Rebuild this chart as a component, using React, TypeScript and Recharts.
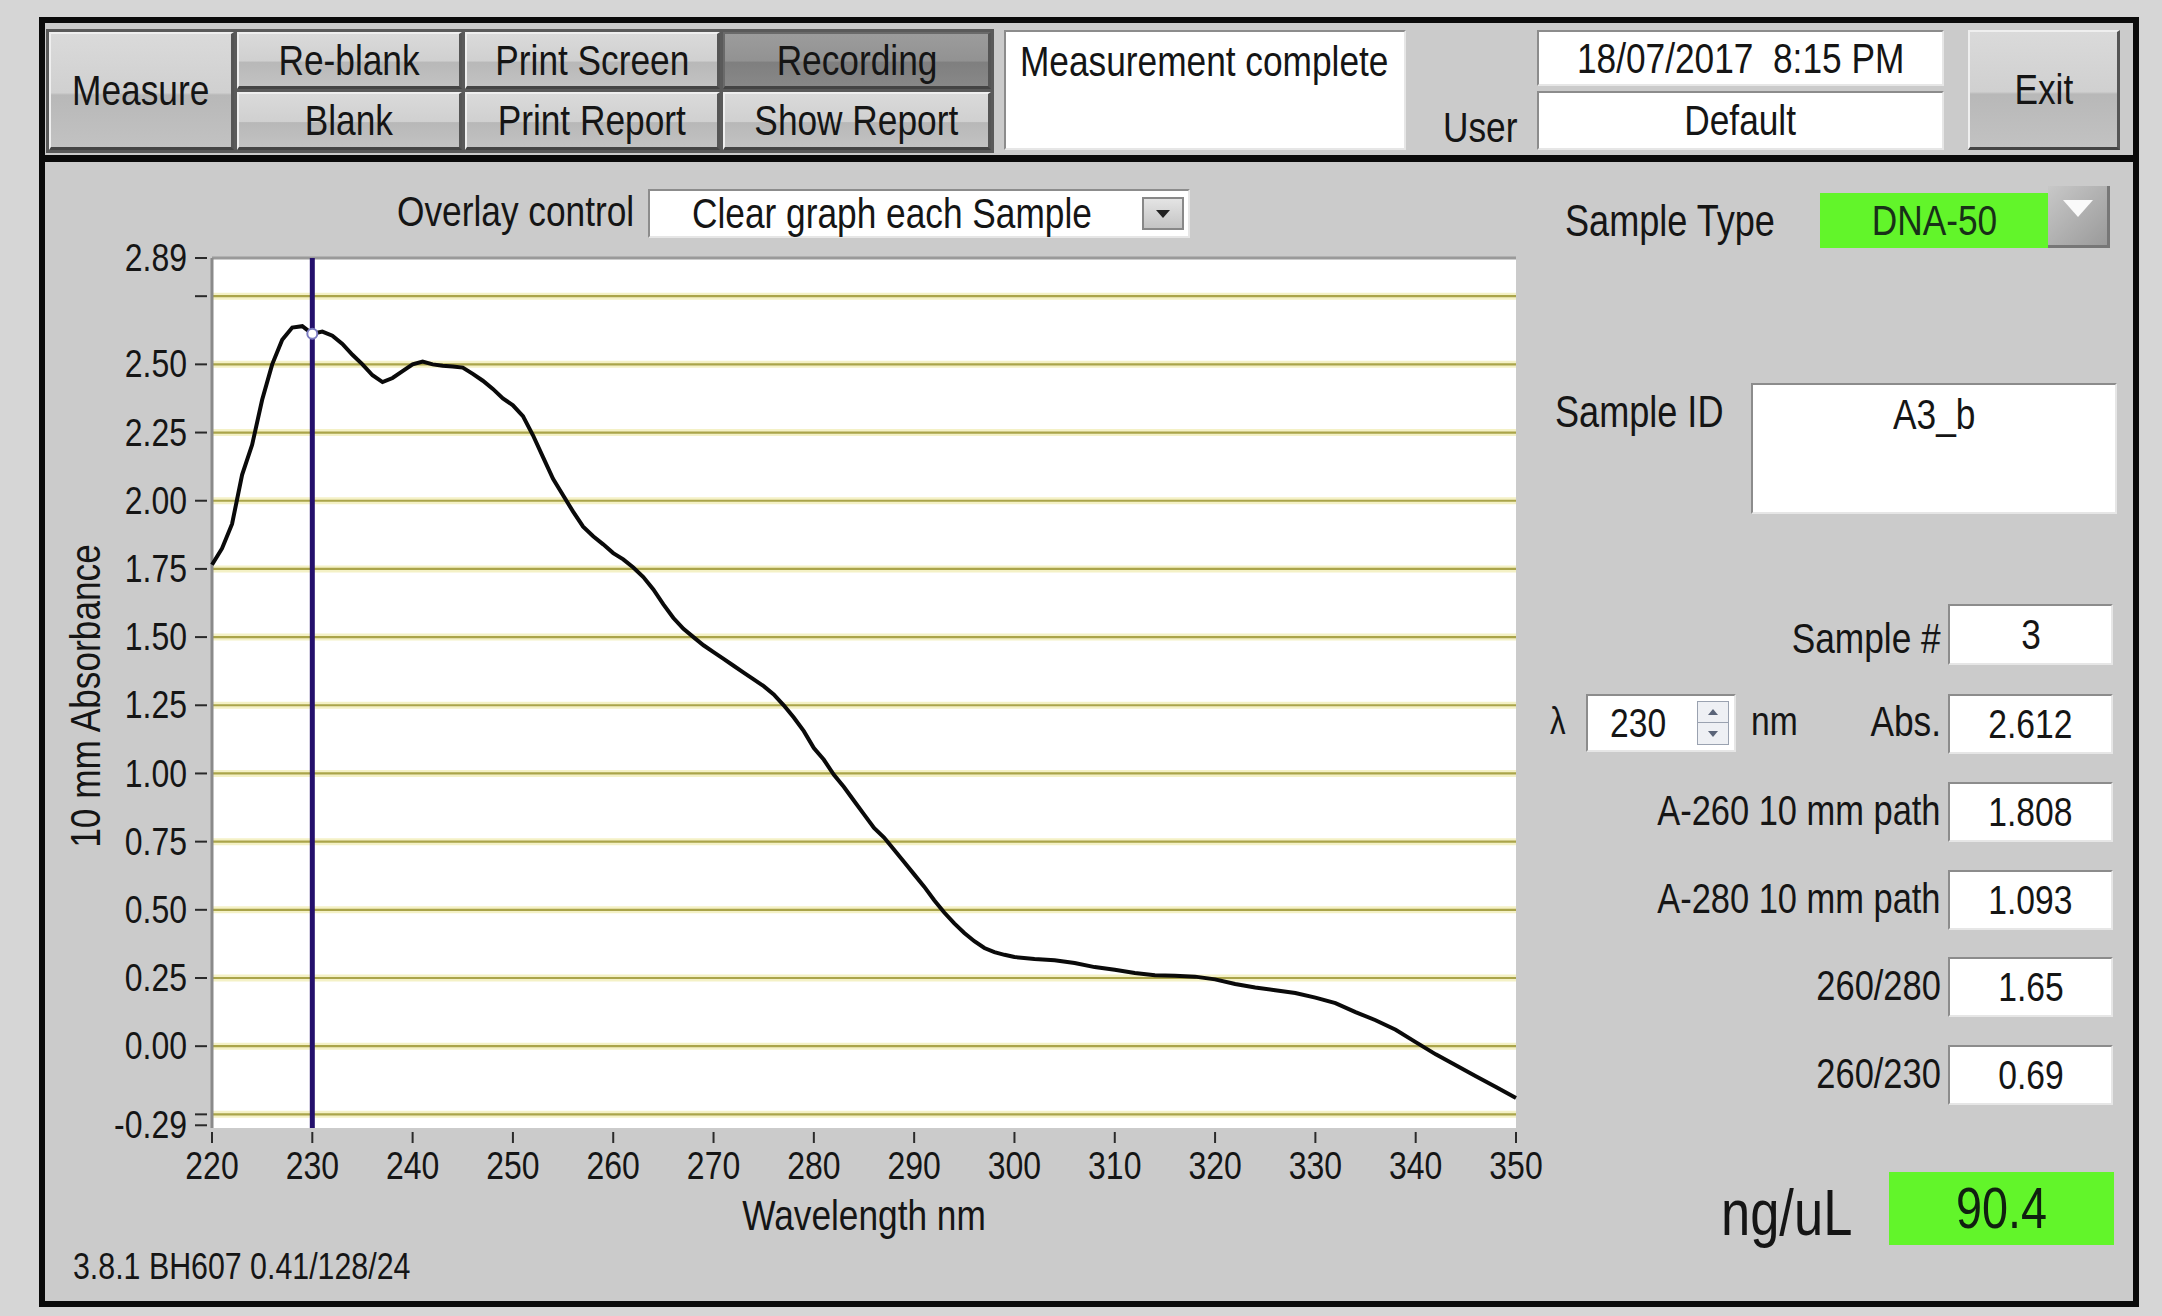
import { LineChart, Line, XAxis, YAxis, CartesianGrid, ReferenceLine, ReferenceDot, Label } from "recharts";

const wavelengths = [
  220, 221, 222, 223, 224, 225, 226, 227, 228, 229, 230, 231, 232, 233, 234, 235, 236, 237, 238, 239,
  240, 241, 242, 243, 244, 245, 246, 247, 248, 249, 250, 251, 252, 253, 254, 255, 256, 257, 258, 259,
  260, 261, 262, 263, 264, 265, 266, 267, 268, 269, 270, 271, 272, 273, 274, 275, 276, 277, 278, 279,
  280, 281, 282, 283, 284, 285, 286, 287, 288, 289, 290, 291, 292, 293, 294, 295, 296, 297, 298, 299,
  300, 302, 304, 306, 308, 310, 312, 314, 316, 318, 320, 322, 324, 326, 328, 330, 332, 334, 336, 338,
  340, 342, 344, 346, 348, 350,
];

const absorbance = [
  1.765, 1.825, 1.915, 2.095, 2.205, 2.37, 2.5, 2.59, 2.635, 2.64, 2.612, 2.62, 2.605, 2.575, 2.535, 2.5, 2.46, 2.435, 2.45, 2.475,
  2.5, 2.51, 2.5, 2.495, 2.492, 2.488, 2.465, 2.44, 2.41, 2.375, 2.35, 2.31, 2.24, 2.16, 2.08, 2.02, 1.96, 1.905, 1.87, 1.84,
  1.808, 1.785, 1.755, 1.72, 1.675, 1.62, 1.57, 1.53, 1.5, 1.47, 1.445, 1.42, 1.395, 1.37, 1.345, 1.32, 1.29, 1.25, 1.205, 1.155,
  1.093, 1.05, 0.995, 0.95, 0.9, 0.85, 0.8, 0.765, 0.72, 0.675, 0.63, 0.585, 0.535, 0.49, 0.45, 0.415, 0.385, 0.36, 0.345, 0.335,
  0.327, 0.32, 0.315, 0.305, 0.29, 0.28, 0.268, 0.26, 0.258, 0.255, 0.245, 0.228, 0.215, 0.205, 0.195, 0.178, 0.158, 0.125, 0.095, 0.06,
  0.015, -0.03, -0.07, -0.11, -0.15, -0.19,
];

const xTicks = [220, 230, 240, 250, 260, 270, 280, 290, 300, 310, 320, 330, 340, 350];
const yTicks = [-0.29, -0.25, 0, 0.25, 0.5, 0.75, 1, 1.25, 1.5, 1.75, 2, 2.25, 2.5, 2.75, 2.89];
const gridValues = [-0.25, 0, 0.25, 0.5, 0.75, 1, 1.25, 1.5, 1.75, 2, 2.25, 2.5, 2.75];
const unlabelledTicks = [-0.25, 2.75];
const yMin = -0.3;
const yMax = 2.89;
const cursorWavelength = 230;
const cursorAbs = 2.612;

const resultLabels = ["A-260 10 mm path", "A-280 10 mm path", "260/280", "260/230"];
const resultValues = ["1.808", "1.093", "1.65", "0.69"];
const resultTops = [782, 870, 957, 1045];

const data = wavelengths.map((wl, i) => ({ wl, abs: absorbance[i] }));

const W = 2162;
const H = 1316;
const FONT = '"Liberation Sans", Arial, sans-serif';
const SQ = 0.82; // the instrument font is a tall, condensed face
const INK = "#151515";
const PANEL = "#cbcbcb";

const Sq = ({ children, origin = "center" }: any) => (
  <span style={{ display: "inline-block", transform: `scaleX(${SQ})`, transformOrigin: origin }}>{children}</span>
);

const Txt = ({ x, y, size = 43, align = "left", children, color = INK }: any) => {
  const style: any = {
    position: "absolute",
    top: y,
    fontSize: size,
    lineHeight: 1,
    whiteSpace: "nowrap",
    color,
    fontFamily: FONT,
    transform: "translateY(-50%)",
  };
  if (align === "left") style.left = x;
  if (align === "right") style.right = W - x;
  if (align === "center") {
    style.left = x;
    style.transform = "translate(-50%, -50%)";
  }
  return (
    <div style={style}>
      <Sq origin={align}>{children}</Sq>
    </div>
  );
};

const Field = ({ x, y, w, h, bg = "#fff", children, size = 43, top = false, left = false, pad = 0 }: any) => (
  <div
    style={{
      position: "absolute",
      left: x,
      top: y,
      width: w,
      height: h,
      background: bg,
      boxSizing: "border-box",
      borderTop: "2px solid #8c8c8c",
      borderLeft: "2px solid #8c8c8c",
      borderRight: "2px solid #e6e6e6",
      borderBottom: "2px solid #e6e6e6",
      display: "flex",
      alignItems: top ? "flex-start" : "center",
      justifyContent: left ? "flex-start" : "center",
      paddingLeft: pad,
      paddingTop: top ? 8 : 0,
      fontFamily: FONT,
      fontSize: size,
      lineHeight: 1,
      color: INK,
      whiteSpace: "nowrap",
    }}
  >
    <Sq origin={left ? "left" : "center"}>{children}</Sq>
  </div>
);

const Btn = ({ x, y, w, h, label, pressed = false, size = 43 }: any) => (
  <div
    style={{
      position: "absolute",
      left: x,
      top: y,
      width: w,
      height: h,
      boxSizing: "border-box",
      background: pressed
        ? "linear-gradient(#9c9c9c, #929292 52%, #7f7f7f 54%, #888888)"
        : "linear-gradient(#dadada, #d0d0d0 52%, #b8b8b8 54%, #c2c2c2)",
      borderTop: `2px solid ${pressed ? "#6a6a6a" : "#efefef"}`,
      borderLeft: `2px solid ${pressed ? "#6a6a6a" : "#efefef"}`,
      borderRight: "3px solid #555",
      borderBottom: "3px solid #444",
      display: "flex",
      alignItems: "center",
      justifyContent: "center",
      fontFamily: FONT,
      fontSize: size,
      lineHeight: 1,
      color: INK,
      whiteSpace: "nowrap",
    }}
  >
    <Sq>{label}</Sq>
  </div>
);

const YTick = ({ x, y, payload }: any) => {
  const v = payload.value;
  return (
    <g>
      <line x1={x - 17} x2={x - 5} y1={y} y2={y} stroke="#2a2a2a" strokeWidth={2} />
      <text
        transform={`translate(${x - 25} ${y}) scale(${SQ} 1)`}
        textAnchor="end"
        dominantBaseline="central"
        fontSize={39}
        fontFamily={FONT}
        fill={INK}
      >
        {unlabelledTicks.includes(v) ? "" : v.toFixed(2)}
      </text>
    </g>
  );
};

const XTick = ({ x, y, payload }: any) => (
  <g>
    <line x1={x} x2={x} y1={y + 4} y2={y + 15} stroke="#2a2a2a" strokeWidth={2} />
    <text
      transform={`translate(${x} ${y + 38}) scale(${SQ} 1)`}
      textAnchor="middle"
      dominantBaseline="central"
      fontSize={39}
      fontFamily={FONT}
      fill={INK}
    >
      {payload.value}
    </text>
  </g>
);

const SpectrumChart = () => (
  <LineChart width={1560} height={1060} data={data} margin={{ top: 58, right: 44, bottom: 0, left: 0 }}>
    <CartesianGrid vertical={false} horizontalValues={gridValues} stroke="#f4f1c6" strokeWidth={7} fill="#ffffff" fillOpacity={1} />
    <CartesianGrid vertical={false} horizontalValues={gridValues} stroke="#aaa44a" strokeWidth={2.2} />
    <XAxis
      dataKey="wl"
      type="number"
      domain={[220, 350]}
      ticks={xTicks}
      interval={0}
      height={132}
      axisLine={false}
      tickLine={false}
      tickSize={0}
      tickMargin={0}
      tick={<XTick />}
    >
      <Label
        content={({ viewBox }: any) => (
          <text
            transform={`translate(${viewBox.x + viewBox.width / 2} ${viewBox.y + 87}) scale(${SQ} 1)`}
            textAnchor="middle"
            dominantBaseline="central"
            fontSize={43}
            fontFamily={FONT}
            fill={INK}
          >
            Wavelength nm
          </text>
        )}
      />
    </XAxis>
    <YAxis
      type="number"
      domain={[yMin, yMax]}
      ticks={yTicks}
      interval={0}
      width={212}
      axisLine={false}
      tickLine={false}
      tickSize={0}
      tickMargin={0}
      allowDataOverflow
      tick={<YTick />}
    >
      <Label
        content={({ viewBox }: any) => {
          const cx = viewBox.x + 85;
          const cy = viewBox.y + viewBox.height / 2 + 3;
          return (
            <text
              transform={`translate(${cx} ${cy}) rotate(-90) scale(${SQ} 1)`}
              textAnchor="middle"
              dominantBaseline="central"
              fontSize={43}
              fontFamily={FONT}
              fill={INK}
            >
              10 mm Absorbance
            </text>
          );
        }}
      />
    </YAxis>
    <ReferenceLine y={yMax} stroke="#9a9a9a" strokeWidth={3} />
    <ReferenceLine x={220} stroke="#8a8a8a" strokeWidth={3} />
    <ReferenceLine x={cursorWavelength} stroke="#24106c" strokeWidth={5} />
    <Line type="linear" dataKey="abs" stroke="#0a0a0a" strokeWidth={4} dot={false} isAnimationActive={false} />
    <ReferenceDot x={cursorWavelength} y={cursorAbs} r={5} fill="#ffffff" stroke="#7a7ac0" strokeWidth={2} />
  </LineChart>
);

export default function App() {
  return (
    <div style={{ position: "absolute", left: 0, top: 0, width: W, height: H, background: "#d6d6d6", overflow: "hidden" }}>
      {/* outer frame */}
      <div
        style={{
          position: "absolute",
          left: 39,
          top: 17,
          width: 2100,
          height: 1290,
          boxSizing: "border-box",
          border: "6px solid #0a0a0a",
          background: PANEL,
        }}
      />
      <div style={{ position: "absolute", left: 39, top: 155, width: 2100, height: 7, background: "#0a0a0a" }} />

      {/* toolbar */}
      <div style={{ position: "absolute", left: 46, top: 29, width: 948, height: 124, background: "#5a5a5a" }} />
      <Btn x={49} y={32} w={185} h={118} label="Measure" />
      <Btn x={237} y={32} w={225} h={57} label="Re-blank" />
      <Btn x={237} y={92} w={225} h={58} label="Blank" />
      <Btn x={465} y={32} w={255} h={57} label="Print Screen" />
      <Btn x={465} y={92} w={255} h={58} label="Print Report" />
      <Btn x={723} y={32} w={268} h={57} label="Recording" pressed />
      <Btn x={723} y={92} w={268} h={58} label="Show Report" />

      <Field x={1004} y={30} w={402} h={120} top left pad={14}>
        Measurement complete
      </Field>
      <Txt x={1443} y={127}>User</Txt>
      <Field x={1537} y={30} w={407} h={56}>18/07/2017&nbsp;&nbsp;8:15 PM</Field>
      <Field x={1537} y={91} w={407} h={59}>Default</Field>
      <Btn x={1968} y={30} w={152} h={120} label="Exit" />

      {/* overlay control */}
      <Txt x={634} y={211} align="right">Overlay control</Txt>
      <Field x={648} y={189} w={542} h={49} left pad={42}>
        Clear graph each Sample
      </Field>
      <div
        style={{
          position: "absolute",
          left: 1142,
          top: 197,
          width: 42,
          height: 33,
          boxSizing: "border-box",
          background: "linear-gradient(#e4e4e4, #c4c4c4)",
          border: "2px solid #888",
          display: "flex",
          alignItems: "center",
          justifyContent: "center",
        }}
      >
        <div style={{ width: 0, height: 0, borderLeft: "7px solid transparent", borderRight: "7px solid transparent", borderTop: "8px solid #222" }} />
      </div>

      {/* chart */}
      <div style={{ position: "absolute", left: 0, top: 200 }}>
        <SpectrumChart />
      </div>
      <Txt x={73} y={1266} size={37}>3.8.1 BH607 0.41/128/24</Txt>

      {/* right panel */}
      <Txt x={1565} y={221} size={44}>Sample Type</Txt>
      <div
        style={{
          position: "absolute",
          left: 1820,
          top: 193,
          width: 228,
          height: 55,
          background: "#62f52a",
          display: "flex",
          alignItems: "flex-start",
          justifyContent: "center",
          paddingTop: 6,
          boxSizing: "border-box",
          fontFamily: FONT,
          fontSize: 43,
          lineHeight: 1,
          color: "#183018",
        }}
      >
        <Sq>DNA-50</Sq>
      </div>
      <div
        style={{
          position: "absolute",
          left: 2048,
          top: 186,
          width: 62,
          height: 62,
          boxSizing: "border-box",
          background: "linear-gradient(135deg, #c8c8c8, #9a9a9a)",
          borderRight: "3px solid #777",
          borderBottom: "3px solid #777",
          display: "flex",
          justifyContent: "center",
          paddingTop: 14,
        }}
      >
        <div style={{ width: 0, height: 0, borderLeft: "15px solid transparent", borderRight: "15px solid transparent", borderTop: "17px solid #fafafa" }} />
      </div>

      <Txt x={1555} y={412} size={44}>Sample ID</Txt>
      <Field x={1751} y={383} w={366} h={131} top>A3_b</Field>

      <Txt x={1941} y={638} align="right">Sample #</Txt>
      <Field x={1948} y={604} w={165} h={61}>3</Field>

      <Txt x={1550} y={721} size={38}>λ</Txt>
      <Field x={1586} y={694} w={150} h={58} left pad={22} size={41}>230</Field>
      <div style={{ position: "absolute", left: 1697, top: 701, width: 32, height: 44, boxSizing: "border-box", border: "1px solid #9aa2b0", background: "#eef0f4" }}>
        <div style={{ height: 20, borderBottom: "1px solid #9aa2b0", display: "flex", alignItems: "center", justifyContent: "center" }}>
          <div style={{ width: 0, height: 0, borderLeft: "5px solid transparent", borderRight: "5px solid transparent", borderBottom: "6px solid #5a6478" }} />
        </div>
        <div style={{ height: 21, display: "flex", alignItems: "center", justifyContent: "center" }}>
          <div style={{ width: 0, height: 0, borderLeft: "5px solid transparent", borderRight: "5px solid transparent", borderTop: "6px solid #5a6478" }} />
        </div>
      </div>
      <Txt x={1751} y={721} size={41}>nm</Txt>
      <Txt x={1941} y={721} align="right">Abs.</Txt>
      <Field x={1948} y={694} w={165} h={60} size={41}>{cursorAbs.toFixed(3)}</Field>

      {resultLabels.map((lbl, i) => (
        <div key={lbl}>
          <Txt x={1941} y={resultTops[i] + 29} align="right" size={42}>{lbl}</Txt>
          <Field x={1948} y={resultTops[i]} w={165} h={60} size={41}>{resultValues[i]}</Field>
        </div>
      ))}

      <Txt x={1721} y={1213} size={64}>ng/uL</Txt>
      <div
        style={{
          position: "absolute",
          left: 1889,
          top: 1172,
          width: 225,
          height: 73,
          background: "#62f52a",
          display: "flex",
          alignItems: "center",
          justifyContent: "center",
          fontFamily: FONT,
          fontSize: 57,
          lineHeight: 1,
          color: "#102010",
        }}
      >
        <Sq>90.4</Sq>
      </div>
    </div>
  );
}
